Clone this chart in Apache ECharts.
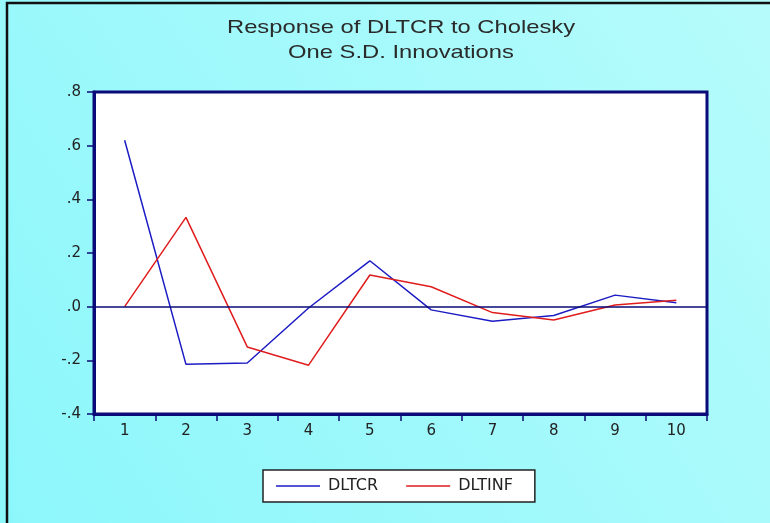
<!DOCTYPE html>
<html lang="en">
<head>
    <meta charset="UTF-8">
    <title>Response of DLTCR to Cholesky</title>
    <script type="text/javascript" src="https://cdn.jsdelivr.net/npm/echarts@6.0.0/dist/echarts.min.js"></script>
    <style type="text/css">
        html, body {
            margin: 0;
            padding: 0;
            height: 100%;
            width: 100%;
        }
        #echarts {
            height: 523px;
            width: 770px;
        }
    </style>
</head>
<body>
<div id="echarts"></div>
<script type="text/javascript">
    // periods after the shock
    var periods = ['1', '2', '3', '4', '5', '6', '7', '8', '9', '10'];
    // responses
    var dltcr = [0.62, -0.215, -0.21, -0.005, 0.171, -0.012, -0.054, -0.033, 0.043, 0.015];
    var dltinf = [0.0, 0.333, -0.15, -0.218, 0.118, 0.074, -0.022, -0.05, 0.006, 0.024];
    var titleLines = ['Response of DLTCR to Cholesky', 'One S.D. Innovations'];

    var navy = '#0a0a78';
    var font = '"Liberation Sans", Arial, sans-serif';
    var wideFont = '"DejaVu Sans", sans-serif';

    var myChart = echarts.init(document.getElementById('echarts'));

    // the original title text is drawn wide, so stretch it a bit
    var titleText = titleLines.map(function (line, i) {
        return {
            type: 'text',
            x: 401,
            y: 28 + i * 25,
            scaleX: 1.25,
            silent: true,
            style: {
                text: line,
                x: 0,
                y: 0,
                align: 'center',
                verticalAlign: 'middle',
                fontFamily: font,
                fontSize: 19,
                fill: '#2a2a2a'
            }
        };
    });

    var option = {
        animation: false,
        backgroundColor: new echarts.graphic.LinearGradient(0, 1, 1, 0, [
            {offset: 0, color: '#8cf7fb'},
            {offset: 1, color: '#b6fbfb'}
        ]),
        graphic: [{
            type: 'rect',
            shape: {x: 7, y: 3, width: 800, height: 560},
            style: {fill: 'none', stroke: '#111', lineWidth: 2.5},
            silent: true
        }].concat(titleText),
        legend: {
            data: ['DLTCR', 'DLTINF'],
            left: 263,
            top: 470,
            padding: [8, 22, 8, 13],
            itemGap: 28,
            itemWidth: 44,
            itemHeight: 1.5,
            icon: 'rect',
            backgroundColor: '#ffffff',
            borderColor: '#222',
            borderWidth: 1.5,
            borderRadius: 0,
            textStyle: {
                fontFamily: wideFont,
                fontSize: 16,
                color: '#222',
                padding: [0, 0, 0, 3]
            }
        },
        grid: {
            left: 94,
            right: 63,
            top: 92,
            bottom: 109,
            show: true,
            backgroundColor: '#ffffff',
            borderColor: navy,
            borderWidth: 3
        },
        xAxis: {
            type: 'category',
            data: periods,
            boundaryGap: true,
            axisLine: {show: true, onZero: false, lineStyle: {color: navy, width: 3}},
            axisTick: {show: true, length: 7, lineStyle: {color: navy, width: 1.5}},
            axisLabel: {
                fontFamily: wideFont,
                fontSize: 15,
                color: '#222',
                margin: 10
            },
            splitLine: {show: false}
        },
        yAxis: {
            type: 'value',
            min: -0.4,
            max: 0.8,
            interval: 0.2,
            axisLine: {show: true, lineStyle: {color: navy, width: 3}},
            axisTick: {show: true, length: 7, lineStyle: {color: navy, width: 1.5}},
            axisLabel: {
                fontFamily: wideFont,
                fontSize: 15,
                color: '#222',
                margin: 13,
                formatter: function (v) {
                    return Number(v).toFixed(1).replace('0.', '.');
                }
            },
            splitLine: {show: false}
        },
        series: [
            {
                name: 'DLTCR',
                type: 'line',
                data: dltcr,
                symbol: 'none',
                lineStyle: {color: '#1c1cc4', width: 1.5},
                itemStyle: {color: '#1c1cc4'},
                markLine: {
                    silent: true,
                    symbol: 'none',
                    label: {show: false},
                    lineStyle: {color: navy, type: 'solid', width: 1.5},
                    data: [{yAxis: 0}]
                }
            },
            {
                name: 'DLTINF',
                type: 'line',
                data: dltinf,
                symbol: 'none',
                lineStyle: {color: '#e01c1c', width: 1.5},
                itemStyle: {color: '#e01c1c'}
            }
        ]
    };
    myChart.setOption(option);
</script>
</body>
</html>
